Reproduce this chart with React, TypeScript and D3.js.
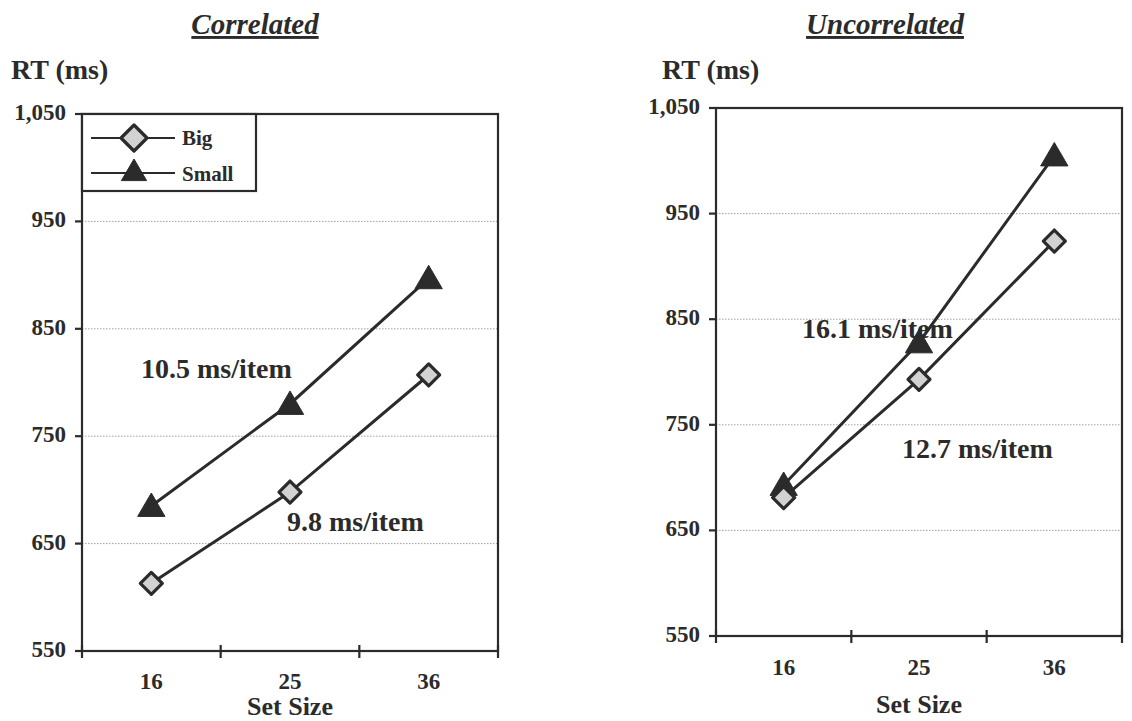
import * as d3 from 'd3';

const SET_SIZES = ['16', '25', '36'];
const Y_TICKS = [550, 650, 750, 850, 950, 1050];

const CORR_BIG = [613, 698, 807];
const CORR_SMALL = [685, 780, 897];
const UNCORR_BIG = [681, 793, 924];
const UNCORR_SMALL = [693, 828, 1005];

const INK = '#2b2b2b';
const FONT = '"Liberation Serif", "Times New Roman", serif';

type Note = { text: string; x: number; y: number };

type PanelProps = {
  title: string;
  titleX: number;
  rtX: number;
  left: number;
  right: number;
  top: number;
  bottom: number;
  big: number[];
  small: number[];
  notes: Note[];
  legend?: boolean;
  tickLabelY: number;
  axisTitleY: number;
};

function diamond(cx: number, cy: number, r: number) {
  return `M${cx},${cy - r}L${cx + r},${cy}L${cx},${cy + r}L${cx - r},${cy}Z`;
}
function triangle(cx: number, cy: number, r: number) {
  return `M${cx},${cy - r}L${cx + r * 1.05},${cy + r * 0.8}L${cx - r * 1.05},${cy + r * 0.8}Z`;
}

function Panel(p: PanelProps) {
  const x = d3.scaleBand<string>().domain(SET_SIZES).range([p.left, p.right]).padding(0);
  const y = d3.scaleLinear().domain([550, 1050]).range([p.bottom, p.top]);
  const cx = (s: string) => (x(s) ?? 0) + x.bandwidth() / 2;
  const line = d3.line<number>().x((_, i) => cx(SET_SIZES[i])).y(v => y(v));
  const bounds = [...SET_SIZES.map(s => x(s) ?? 0), p.right];

  return (
    <g fontFamily={FONT} fill={INK}>
      <text x={p.titleX} y={34} fontSize={29} fontWeight={700} fontStyle="italic" textAnchor="middle" textDecoration="underline">
        {p.title}
      </text>
      <text x={p.rtX} y={79} fontSize={28} fontWeight={700}>RT (ms)</text>

      {/* gridlines */}
      {Y_TICKS.slice(1, -1).map(t => (
        <line key={t} x1={p.left} x2={p.right} y1={y(t)} y2={y(t)} stroke="#a0a0a0" strokeWidth={1} strokeDasharray="1.5,1.5" />
      ))}

      {/* frame */}
      <rect x={p.left} y={p.top} width={p.right - p.left} height={p.bottom - p.top} fill="none" stroke={INK} strokeWidth={2.2} />

      {/* y axis ticks */}
      {Y_TICKS.map(t => (
        <g key={t}>
          <line x1={p.left - 7} x2={p.left} y1={y(t)} y2={y(t)} stroke={INK} strokeWidth={2.2} />
          <text x={p.left - 16} y={y(t) + 6} fontSize={23} fontWeight={700} textAnchor="end">
            {d3.format(',')(t)}
          </text>
        </g>
      ))}

      {/* x axis ticks */}
      {bounds.map((b, i) => (
        <line key={i} x1={b} x2={b} y1={p.bottom - 6} y2={p.bottom + 7} stroke={INK} strokeWidth={2.2} />
      ))}
      {SET_SIZES.map(s => (
        <text key={s} x={cx(s)} y={p.tickLabelY} fontSize={23} fontWeight={700} textAnchor="middle">{s}</text>
      ))}
      <text x={(p.left + p.right) / 2} y={p.axisTitleY} fontSize={26} fontWeight={700} textAnchor="middle">Set Size</text>

      {/* series */}
      <path d={line(p.small) ?? ''} fill="none" stroke={INK} strokeWidth={3} />
      <path d={line(p.big) ?? ''} fill="none" stroke={INK} strokeWidth={3} />
      {p.small.map((v, i) => (
        <path key={i} d={triangle(cx(SET_SIZES[i]), y(v), 13)} fill={INK} stroke={INK} strokeWidth={1} />
      ))}
      {p.big.map((v, i) => (
        <path key={i} d={diamond(cx(SET_SIZES[i]), y(v), 11)} fill="#d2d2d2" stroke={INK} strokeWidth={3.2} strokeLinejoin="round" />
      ))}

      {p.notes.map(n => (
        <text key={n.text} x={n.x} y={n.y} fontSize={28} fontWeight={700}>{n.text}</text>
      ))}

      {p.legend && (
        <g>
          <rect x={p.left} y={p.top} width={174} height={77} fill="#fff" stroke={INK} strokeWidth={2.2} />
          <line x1={p.left + 9} x2={p.left + 93} y1={p.top + 24} y2={p.top + 24} stroke={INK} strokeWidth={2} />
          <path d={diamond(p.left + 52, p.top + 24, 13)} fill="#d2d2d2" stroke={INK} strokeWidth={3.2} strokeLinejoin="round" />
          <text x={p.left + 100} y={p.top + 31} fontSize={21} fontWeight={700}>Big</text>
          <line x1={p.left + 9} x2={p.left + 93} y1={p.top + 59} y2={p.top + 59} stroke={INK} strokeWidth={2} />
          <path d={triangle(p.left + 52, p.top + 57, 12)} fill={INK} stroke={INK} strokeWidth={1} />
          <text x={p.left + 100} y={p.top + 67} fontSize={21} fontWeight={700}>Small</text>
        </g>
      )}
    </g>
  );
}

export default function App() {
  return (
    <svg width={1132} height={721} style={{ position: 'absolute', left: 0, top: 0, background: '#fff' }}>
      <rect width={1132} height={721} fill="#fff" />
      <Panel
        title="Correlated"
        titleX={255}
        rtX={11}
        left={82}
        right={498}
        top={114}
        bottom={651}
        big={CORR_BIG}
        small={CORR_SMALL}
        legend
        tickLabelY={689}
        axisTitleY={715}
        notes={[
          { text: '10.5 ms/item', x: 141, y: 378 },
          { text: '9.8 ms/item', x: 287, y: 531 },
        ]}
      />
      <Panel
        title="Uncorrelated"
        titleX={885}
        rtX={662}
        left={716}
        right={1122}
        top={108}
        bottom={636}
        big={UNCORR_BIG}
        small={UNCORR_SMALL}
        tickLabelY={675}
        axisTitleY={713}
        notes={[
          { text: '16.1 ms/item', x: 802, y: 338 },
          { text: '12.7 ms/item', x: 902, y: 458 },
        ]}
      />
    </svg>
  );
}
